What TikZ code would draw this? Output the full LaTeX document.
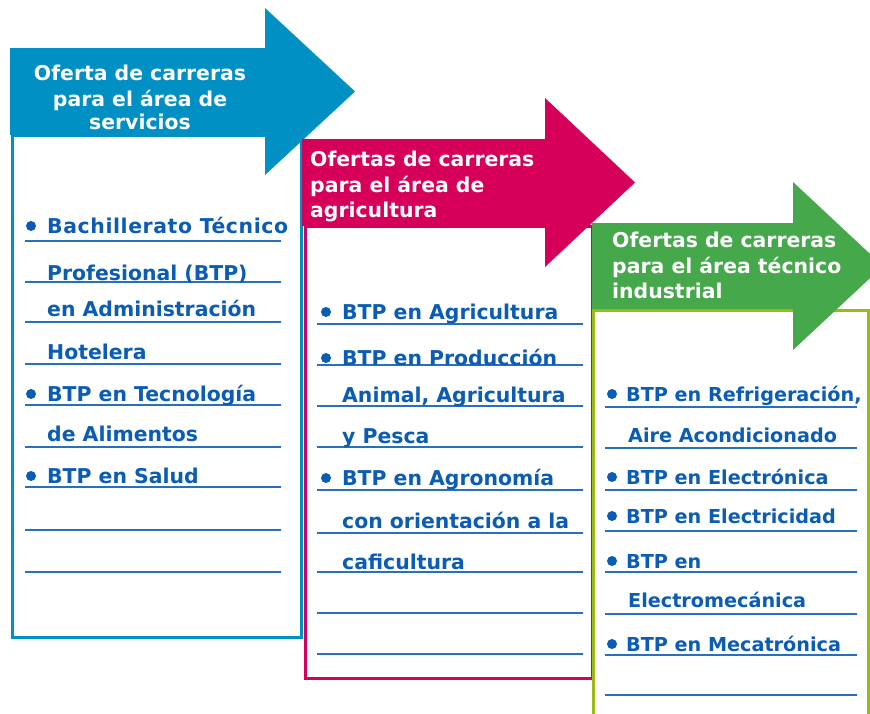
\documentclass[tikz,border=0pt]{standalone}
\usepackage{fontspec}
\setmainfont{DejaVu Sans}
\newfontfamily\vfont{DejaVu Sans}
\definecolor{arrblue}{HTML}{0090C4}
\definecolor{arrred}{HTML}{D6005A}
\definecolor{arrgreen}{HTML}{45A84B}
\definecolor{boxgreen}{HTML}{99BC14}
\definecolor{txtblue}{HTML}{0A5CB4}
\definecolor{lineblue}{HTML}{2A6FBF}
\begin{document}
\begin{tikzpicture}[x=1pt,y=-1pt,
  hdr/.style={font=\vfont\bfseries\fontsize{20.4}{24}\selectfont, text=white, inner sep=0pt, anchor=base west},
  hdrc/.style={hdr, anchor=base},
  item/.style={font=\vfont\bfseries\fontsize{20.4}{24}\selectfont, text=txtblue, inner sep=0pt, anchor=base west},
  gitem/.style={item, font=\vfont\bfseries\fontsize{19.2}{24}\selectfont},
  uline/.style={draw=lineblue, line width=1.6pt},
  dot/.style={circle, fill=txtblue, inner sep=0pt, minimum size=10pt},
  boxline/.style={line width=3pt, fill=white}]
\useasboundingbox (0,0) rectangle (870,713);
% ---- blue column
\draw[boxline, draw=arrblue] (12,135) rectangle (301,637);
\fill[arrblue] (10,48) -- (265,48) -- (265,8) -- (355,91.5) -- (265,175) -- (265,135) -- (10,135) -- cycle;
\node[hdrc] (s1) at (140,80) {Oferta de carreras};
\node[hdrc] (s2) at (140,106) {para el área de};
\node[hdrc] (s3) at (140,129) {servicios};
\foreach \y in {241,282,322,364,405,447,487,530,572} \draw[uline] (25,\y) -- (281,\y);
\node[dot] (b1) at (31,226) {};
\node[item] (a1) at (47,233) {\addfontfeature{LetterSpace=2.9}Bachillerato Técnico};
\node[item] (a2) at (47,280) {Profesional (BTP)};
\node[item] (a3) at (47,316) {en Administración};
\node[item] (a4) at (47,359) {Hotelera};
\node[dot] (b2) at (31,394) {};
\node[item] (a5) at (47,401) {BTP en Tecnología};
\node[item] (a6) at (47,441) {de Alimentos};
\node[dot] (b3) at (31,476) {};
\node[item] (a7) at (47,483) {BTP en Salud};
% ---- red column
\draw[boxline, draw=arrred] (305,226) rectangle (592,678);
\fill[arrred] (302,139) -- (545,139) -- (545,98) -- (635,182.5) -- (545,267) -- (545,226) -- (302,226) -- cycle;
\node[hdr] (r1) at (310,166) {Ofertas de carreras};
\node[hdr] (r2) at (310,192) {para el área de};
\node[hdr] (r3) at (310,217) {agricultura};
\foreach \y in {324,365,406,447,490,533,572,613,654} \draw[uline] (317,\y) -- (583,\y);
\node[dot] (c1) at (326,312) {};
\node[item] (d1) at (342,319) {BTP en Agricultura};
\node[dot] (c2) at (326,358) {};
\node[item] (d2) at (342,365) {BTP en Producción};
\node[item] (d3) at (342,402) {Animal, Agricultura};
\node[item] (d4) at (342,443) {y Pesca};
\node[dot] (c3) at (326,478) {};
\node[item] (d5) at (342,485) {BTP en Agronomía};
\node[item] (d6) at (342,528) {con orientación a la};
\node[item] (d7) at (342,569) {caficultura};
% ---- green column
\draw[boxline, draw=boxgreen] (593,310) rectangle (868,730);
\fill[arrgreen] (592,223) -- (793,223) -- (793,182) -- (883,266) -- (793,350) -- (793,309) -- (592,309) -- cycle;
\node[hdr] (g1) at (612,247) {Ofertas de carreras};
\node[hdr] (g2) at (612,273) {para el área técnico};
\node[hdr] (g3) at (612,298) {industrial};
\foreach \y in {407,448,490,531,572,614,655,695} \draw[uline] (605,\y) -- (857,\y);
\node[dot] (e1) at (612,394) {};
\node[gitem] (f1) at (626,401) {BTP en Refrigeración,};
\node[gitem] (f2) at (628,442) {Aire Acondicionado};
\node[dot] (e2) at (612,477) {};
\node[gitem] (f3) at (626,484) {BTP en Electrónica};
\node[dot] (e3) at (612,516) {};
\node[gitem] (f4) at (626,523) {BTP en Electricidad};
\node[dot] (e4) at (612,561) {};
\node[gitem] (f5) at (626,568) {BTP en};
\node[gitem] (f6) at (628,607) {Electromecánica};
\node[dot] (e5) at (612,644) {};
\node[gitem] (f7) at (626,651) {BTP en Mecatrónica};
\end{tikzpicture}
\end{document}
